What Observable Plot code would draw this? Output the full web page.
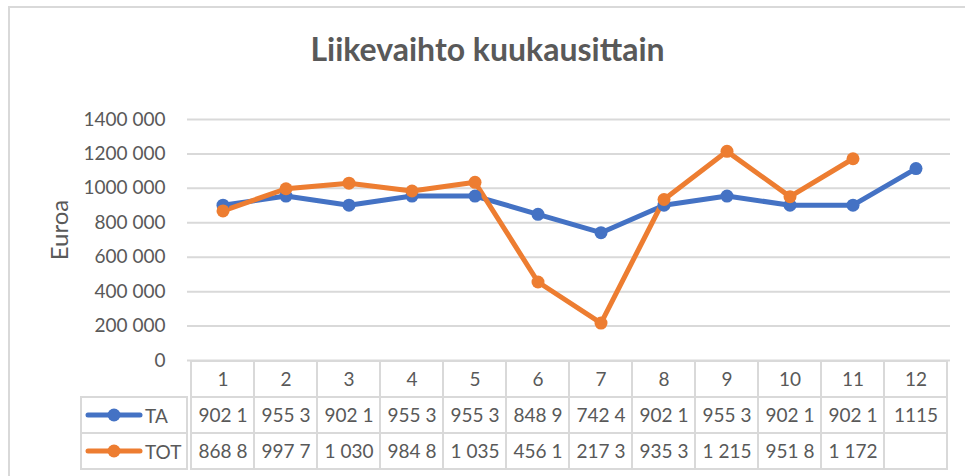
<!DOCTYPE html>
<html><head><meta charset="utf-8">
<script src="https://cdn.jsdelivr.net/npm/d3@7"></script>
<script src="https://cdn.jsdelivr.net/npm/@observablehq/plot@0.6"></script>
<style>
body{margin:0;background:#fff;font-family:Lato,"Open Sans",sans-serif;}
#wrap{position:relative;width:965px;height:476px;overflow:hidden;background:#fff;}
#frame{position:absolute;left:8px;top:6px;width:1000px;height:500px;border-left:2px solid #d9d9d9;border-top:2px solid #d9d9d9;}
#title{position:absolute;left:0;width:975px;top:27px;text-align:center;font-size:32px;line-height:44px;font-weight:700;color:#595959;}
#ylabel{position:absolute;left:58px;top:230px;transform:translate(-50%,-50%) rotate(-90deg);font-size:24px;color:#595959;white-space:nowrap;}
#chart{position:absolute;left:0;top:100px;}
#table{position:absolute;left:0;top:360px;}
.leg{position:absolute;left:80px;width:108px;height:38px;box-sizing:border-box;border:2px solid #d9d9d9;font-size:19px;color:#595959;display:flex;align-items:center;}
.leg svg{margin-left:3px;margin-right:2px;}
</style></head>
<body><div id="wrap"><div id="frame"></div><div id="title"></div><div id="ylabel"></div><div id="chart"></div><div id="table"></div><div id="legend"></div></div>
<script>
const chartTitle = "Liikevaihto kuukausittain";
const yLabel = "Euroa";
const months = ["1","2","3","4","5","6","7","8","9","10","11","12"];
const seriesNames = ["TA","TOT"];
const seriesColors = ["#4472C4","#ED7D31"];
const taValues = [902150, 955300, 902150, 955300, 955300, 848900, 742400, 902150, 955300, 902150, 902150, 1115000];
const totValues = [868800, 997700, 1030000, 984800, 1035000, 456100, 217300, 935300, 1215000, 951800, 1172000, null];
const taLabels = ["902 1","955 3","902 1","955 3","955 3","848 9","742 4","902 1","955 3","902 1","902 1","1115"];
const totLabels = ["868 8","997 7","1 030","984 8","1 035","456 1","217 3","935 3","1 215","951 8","1 172",""];
const yTicks = [0,200000,400000,600000,800000,1000000,1200000,1400000];
const yTickLabels = ["0","200 000","400 000","600 000","800 000","1000 000","1200 000","1400 000"];

document.getElementById("title").textContent = chartTitle;
document.getElementById("ylabel").textContent = yLabel;

const seriesValues = [taValues, totValues];
const points = [];
seriesNames.forEach((s, si) => months.forEach((m, i) => {
  if (seriesValues[si][i] != null) points.push({series: s, month: m, value: seriesValues[si][i]});
}));

const W = 965, ML = 187, MR = 15;
const chart = Plot.plot({
  width: W, height: 270,
  marginLeft: ML, marginRight: MR, marginTop: 19, marginBottom: 10,
  style: {fontFamily: "Lato, sans-serif", color: "#595959", background: "transparent", overflow: "visible"},
  x: {type: "band", domain: months, padding: 0, axis: null},
  y: {domain: [0, 1400000], axis: null},
  color: {domain: seriesNames, range: seriesColors},
  marks: [
    Plot.gridY(yTicks, {stroke: "#d9d9d9", strokeOpacity: 1, strokeWidth: 2}),
    Plot.axisY(yTicks, {tickSize: 0, tickPadding: 22, fontSize: 19, tickFormat: (d) => yTickLabels[yTicks.indexOf(d)], label: null}),
    Plot.line(points, {x: "month", y: "value", z: "series", stroke: "series", strokeWidth: 5, strokeLinejoin: "round", strokeLinecap: "round"}),
    Plot.dot(points, {x: "month", y: "value", fill: "series", r: 6.5, stroke: null})
  ]
});
document.getElementById("chart").appendChild(chart);

const rowKeys = ["hdr", ...seriesNames];
const cells = [];
months.forEach((m, i) => {
  cells.push({row: "hdr", month: m, text: m});
  cells.push({row: "TA", month: m, text: taLabels[i]});
  cells.push({row: "TOT", month: m, text: totLabels[i]});
});
const table = Plot.plot({
  width: W, height: 110,
  marginLeft: ML, marginRight: MR, marginTop: 1, marginBottom: 1,
  style: {fontFamily: "Lato, sans-serif", color: "#595959", background: "transparent", overflow: "visible"},
  x: {type: "band", domain: months, padding: 0, axis: null},
  y: {type: "band", domain: rowKeys, padding: 0, axis: null},
  marks: [
    Plot.cell(cells, {x: "month", y: "row", fill: "white", stroke: "#d9d9d9", strokeWidth: 2, inset: 0}),
    Plot.text(cells, {x: "month", y: "row", text: "text", fontSize: 19, fill: "#595959"})
  ]
});
document.getElementById("table").appendChild(table);

const legend = document.getElementById("legend");
seriesNames.forEach((s, i) => {
  const d = document.createElement("div");
  d.className = "leg";
  d.style.top = (396 + i * 36) + "px";
  d.innerHTML = `<svg width="58" height="14"><line x1="3" y1="7" x2="55" y2="7" stroke="${seriesColors[i]}" stroke-width="5" stroke-linecap="round"/><circle cx="29" cy="7" r="6.5" fill="${seriesColors[i]}"/></svg><span>${s}</span>`;
  legend.appendChild(d);
});
</script>
</body></html>
